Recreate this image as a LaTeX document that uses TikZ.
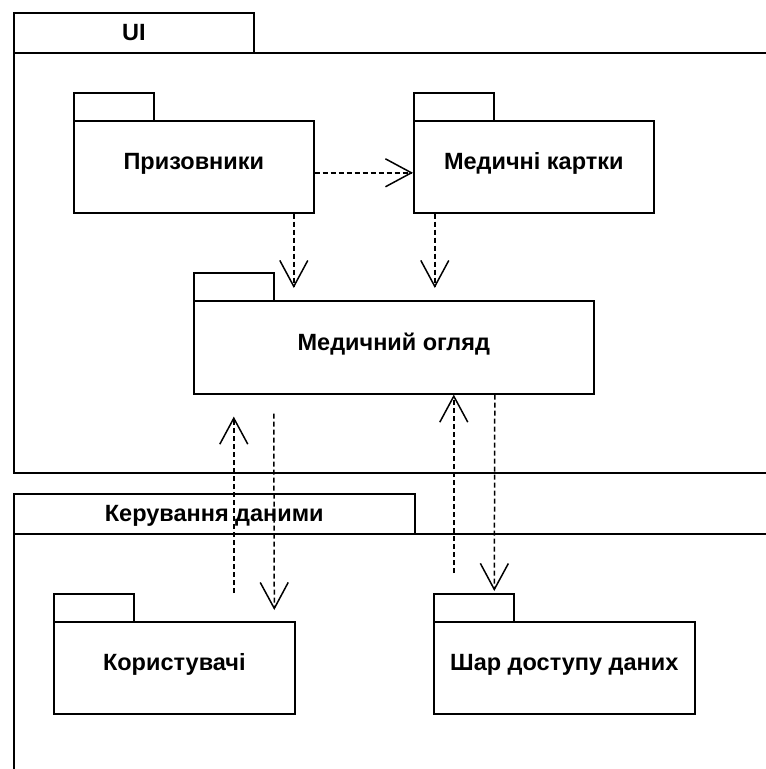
\documentclass[tikz,border=0pt]{standalone}
\usepackage{fontspec}
\setmainfont{Liberation Sans}
\usetikzlibrary{arrows.meta}
\tikzset{
  ln/.style={line width=1.6pt, draw=black},
  pkbody/.style={ln, rectangle, anchor=north west, inner sep=0pt, align=center,
    font=\fontsize{23.5}{28}\selectfont\bfseries, text height=9pt, text depth=3pt},
  pktab/.style={ln, rectangle, anchor=north west, inner sep=0pt, minimum width=80pt, minimum height=28pt},
  frtab/.style={ln, rectangle, anchor=north west, inner sep=0pt, minimum height=40pt,
    font=\fontsize{23.5}{28}\selectfont\bfseries, text height=15pt, text depth=0pt},
  frbody/.style={ln, rectangle, anchor=north west, inner sep=0pt},
  dep/.style={line width=1.5pt, dash pattern=on 5pt off 3pt,
    -{Straight Barb[length=26pt,width=28pt]}}
}
\begin{document}
\begin{tikzpicture}[x=1pt,y=-1pt]
\useasboundingbox (0,0) rectangle (766,769);
\clip (0,0) rectangle (766,769);
% UI frame
\node[frtab, minimum width=240pt] (uiTab) at (13,12) {UI};
\node[frbody, minimum width=800pt, minimum height=420pt] (ui) at (13,52) {};
% Data management frame
\node[frtab, minimum width=401pt] (dmTab) at (13,493) {Керування даними};
\node[frbody, minimum width=800pt, minimum height=300pt] (dm) at (13,533) {};
% packages
\node[pktab] (prizTab) at (73,92) {};
\node[pkbody, minimum width=240pt, minimum height=92pt] (priz) at (73,120) {Призовники};
\node[pktab] (cardTab) at (413,92) {};
\node[pkbody, minimum width=240pt, minimum height=92pt] (card) at (413,120) {Медичні картки};
\node[pktab] (examTab) at (193,272) {};
\node[pkbody, minimum width=400pt, minimum height=93pt] (exam) at (193,300) {Медичний огляд};
\node[pktab] (usersTab) at (53,593) {};
\node[pkbody, minimum width=241pt, minimum height=92pt] (users) at (53,621) {Користувачі};
\node[pktab] (dalTab) at (433,593) {};
\node[pkbody, minimum width=261pt, minimum height=92pt] (dal) at (433,621) {Шар доступу даних};
% dependencies
\draw[dep] ([yshift=-6pt]priz.east) -- ([yshift=-6pt]card.west);
\draw[dep] ([xshift=100pt]priz.south) -- ([xshift=-100pt,yshift=12pt]exam.north);
\draw[dep] ([xshift=-99pt]card.south) -- ([xshift=41pt,yshift=12pt]exam.north);
\draw[dep] ([xshift=140pt]usersTab.north) -- ([xshift=-160pt,yshift=-22pt]exam.south);
\draw[dep] ([xshift=-120pt,yshift=-19pt]exam.south) -- ([xshift=100pt,yshift=11pt]users.north);
\draw[dep] ([xshift=-20pt,yshift=20pt]dalTab.north) -- ([xshift=60pt]exam.south);
\draw[dep] ([xshift=101pt]exam.south) -- ([xshift=20.5pt,yshift=2pt]dalTab.north);
\end{tikzpicture}
\end{document}
